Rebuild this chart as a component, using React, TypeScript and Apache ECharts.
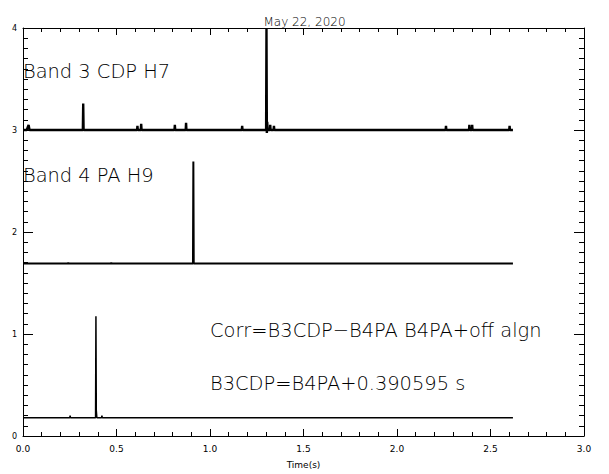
import React, { useEffect, useRef } from "react";
import * as echarts from "echarts";

const titleText = "May 22, 2020";
const xAxisName = "Time(s)";

// Band 3 CDP H7 trace (time s, value)
const band3T = [0, 0.02, 0.03, 0.035, 0.32, 0.322, 0.324, 0.61, 0.612, 0.614, 0.63, 0.632, 0.634, 0.81, 0.812, 0.814, 0.87, 0.872, 0.874, 1.17, 1.172, 1.174, 1.3, 1.302, 1.304, 1.306, 1.308, 1.32, 1.322, 1.324, 1.34, 1.342, 1.344, 2.26, 2.262, 2.264, 2.385, 2.387, 2.389, 2.4, 2.402, 2.404, 2.6, 2.602, 2.604, 2.62];
const band3V = [3.0, 3.0, 3.05, 3.0, 3.0, 3.26, 3.0, 3.0, 3.04, 3.0, 3.0, 3.06, 3.0, 3.0, 3.05, 3.0, 3.0, 3.07, 3.0, 3.0, 3.04, 3.0, 3.0, 4.0, 2.97, 3.08, 3.0, 3.0, 3.05, 3.0, 3.0, 3.04, 3.0, 3.0, 3.04, 3.0, 3.0, 3.05, 3.0, 3.0, 3.05, 3.0, 3.0, 3.04, 3.0, 3.0];

// Band 4 PA H9 trace
const band4T = [0, 0.24, 0.242, 0.244, 0.47, 0.472, 0.474, 0.909, 0.911, 0.913, 2.62];
const band4V = [1.69, 1.69, 1.7, 1.69, 1.69, 1.7, 1.69, 1.69, 2.69, 1.69, 1.69];

// Correlation trace
const corrT = [0, 0.25, 0.252, 0.254, 0.388, 0.39, 0.392, 0.395, 0.42, 0.422, 0.424, 2.62];
const corrV = [0.18, 0.18, 0.2, 0.18, 0.18, 1.175, 0.25, 0.18, 0.18, 0.2, 0.18, 0.18];

const labels = ["Band 3 CDP H7", "Band 4 PA H9", "Corr=B3CDP\u2212B4PA B4PA+off algn", "B3CDP=B4PA+0.390595 s"];

const FONT = "DejaVu Sans";

function pairs(t: number[], v: number[]) {
  return t.map((x, i) => [x, v[i]]);
}

export default function App() {
  const ref = useRef<HTMLDivElement>(null);
  useEffect(() => {
    const chart = echarts.init(ref.current!, null, { renderer: "svg" });
    const xCommon = {
      type: "value" as const,
      min: 0,
      max: 3,
      interval: 0.5,
      axisLine: { show: true, onZero: false, lineStyle: { color: "#000", width: 1 } },
      axisTick: { show: true, inside: true, length: 7, lineStyle: { color: "#000" } },
      minorTick: { show: true, splitNumber: 5, length: 4, lineStyle: { color: "#000" } },
      splitLine: { show: false },
    };
    const yCommon = {
      type: "value" as const,
      min: 0,
      max: 4,
      interval: 1,
      axisLine: { show: true, onZero: false, lineStyle: { color: "#000", width: 1 } },
      axisTick: { show: true, inside: true, length: 10, lineStyle: { color: "#000" } },
      minorTick: { show: true, splitNumber: 10, length: 5, lineStyle: { color: "#000" } },
      splitLine: { show: false },
    };
    const txt = (s: string, left: number, top: number) => ({
      type: "text",
      left,
      top,
      style: { text: s, fontFamily: FONT, fontSize: 19.4, fontWeight: 200, fill: "#000" },
    });
    chart.setOption({
      animation: false,
      backgroundColor: "#fff",
      title: {
        text: titleText,
        left: "center",
        top: 11,
        textStyle: { fontFamily: FONT, fontSize: 12, fontWeight: 200, color: "#000" },
      },
      grid: { left: 23, right: 25, top: 28, bottom: 35 },
      xAxis: [
        {
          ...xCommon,
          position: "bottom",
          name: xAxisName,
          nameLocation: "middle",
          nameGap: 24,
          nameTextStyle: { fontFamily: FONT, fontSize: 9, color: "#000" },
          axisLabel: {
            fontFamily: FONT,
            fontSize: 9,
            color: "#000",
            margin: 8,
            formatter: (v: number) => v.toFixed(1),
          },
        },
        { ...xCommon, position: "top", axisLabel: { show: false } },
      ],
      yAxis: [
        {
          ...yCommon,
          position: "left",
          axisLabel: { fontFamily: FONT, fontSize: 8, color: "#000", margin: 6 },
        },
        { ...yCommon, position: "right", axisLabel: { show: false } },
      ],
      series: [
        {
          type: "line",
          data: pairs(band3T, band3V),
          showSymbol: false,
          lineStyle: { color: "#000", width: 2.4 },
          clip: true,
        },
        {
          type: "line",
          data: pairs(band4T, band4V),
          showSymbol: false,
          lineStyle: { color: "#000", width: 2 },
          clip: true,
        },
        {
          type: "line",
          data: pairs(corrT, corrV),
          showSymbol: false,
          lineStyle: { color: "#000", width: 1.5 },
          clip: true,
        },
      ],
      graphic: [
        txt(labels[0], 23, 62),
        txt(labels[1], 23, 166),
        txt(labels[2], 210, 321),
        txt(labels[3], 210, 374),
      ],
    });
    return () => chart.dispose();
  }, []);
  return (
    <div
      ref={ref}
      style={{ position: "absolute", left: 0, top: 0, width: 609, height: 474, background: "#fff" }}
    />
  );
}
